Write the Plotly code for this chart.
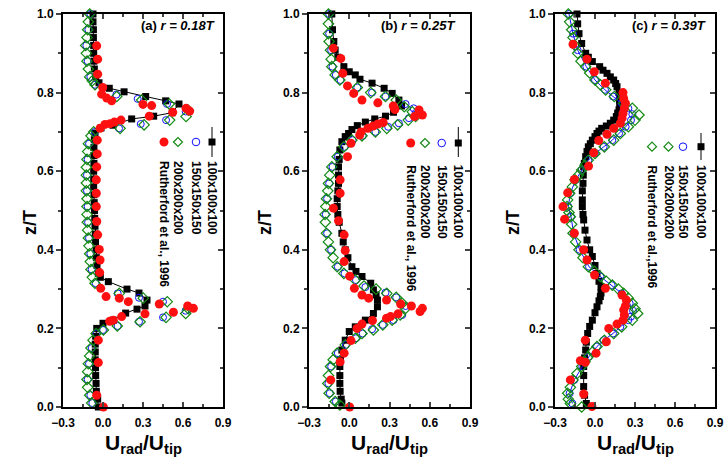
import plotly.graph_objects as go

F = "Liberation Sans, Arial, sans-serif"

# ---------------- Panel (a) r = 0.18T ----------------
a_m100_z = [1.00, 0.98, 0.96, 0.94, 0.92, 0.90, 0.88, 0.86, 0.84, 0.825, 0.811, 0.802, 0.790, 0.779, 0.771,
            0.749, 0.740, 0.733, 0.717, 0.710, 0.697, 0.68, 0.66, 0.64, 0.62, 0.60, 0.58, 0.56, 0.54, 0.52,
            0.50, 0.48, 0.46, 0.44, 0.42, 0.40, 0.38, 0.36, 0.34, 0.330, 0.319, 0.300, 0.290, 0.272, 0.257,
            0.249, 0.239, 0.221, 0.213, 0.200, 0.18, 0.16, 0.14, 0.12, 0.10, 0.08, 0.06, 0.04, 0.02, 0.00]
a_m100_x = [-0.075, -0.075, -0.072, -0.072, -0.07, -0.07, -0.068, -0.065, -0.055, -0.03, 0.047, 0.158, 0.32, 0.47, 0.57,
            0.52, 0.38, 0.215, 0.075, -0.015, -0.06, -0.065, -0.068, -0.068, -0.068, -0.07, -0.07, -0.07, -0.068, -0.066,
            -0.064, -0.062, -0.06, -0.058, -0.056, -0.052, -0.05, -0.045, -0.035, -0.02, 0.04, 0.18, 0.27, 0.33, 0.315,
            0.255, 0.17, 0.077, 0.0, -0.047, -0.055, -0.058, -0.058, -0.058, -0.056, -0.055, -0.052, -0.05, -0.04, -0.035]

a_m150_z = [1.00, 0.96, 0.92, 0.88, 0.84, 0.82, 0.795, 0.784, 0.771, 0.752, 0.730, 0.720, 0.709, 0.70, 0.67,
            0.63, 0.59, 0.55, 0.51, 0.47, 0.43, 0.39, 0.35, 0.315, 0.289, 0.278, 0.268, 0.245, 0.228, 0.217,
            0.206, 0.196, 0.187, 0.15, 0.11, 0.07, 0.03, 0.01]
a_m150_x = [-0.095, -0.11, -0.125, -0.115, -0.095, -0.06, 0.10, 0.26, 0.48, 0.62, 0.473, 0.283, 0.12, -0.06, -0.105,
            -0.115, -0.12, -0.12, -0.115, -0.112, -0.105, -0.095, -0.085, -0.055, 0.11, 0.27, 0.45, 0.62, 0.45, 0.27,
            0.11, 0.0, -0.05, -0.085, -0.105, -0.115, -0.095, -0.08]

a_m200_z = [1.00, 0.98, 0.96, 0.94, 0.92, 0.90, 0.88, 0.86, 0.84, 0.83, 0.820, 0.790, 0.781, 0.771, 0.755,
            0.739, 0.730, 0.718, 0.709, 0.700, 0.69, 0.67, 0.65, 0.63, 0.61, 0.59, 0.57, 0.55, 0.53, 0.51,
            0.49, 0.47, 0.45, 0.43, 0.41, 0.39, 0.37, 0.35, 0.33, 0.315, 0.289, 0.277, 0.268, 0.250, 0.238,
            0.228, 0.217, 0.206, 0.196, 0.187, 0.17, 0.15, 0.13, 0.11, 0.09, 0.07, 0.05, 0.03, 0.01]
a_m200_x = [-0.10, -0.11, -0.115, -0.12, -0.13, -0.125, -0.12, -0.11, -0.10, -0.08, -0.06, 0.103, 0.29, 0.497, 0.64,
            0.623, 0.50, 0.308, 0.128, -0.07, -0.09, -0.11, -0.115, -0.12, -0.125, -0.125, -0.125, -0.125, -0.12, -0.12,
            -0.12, -0.118, -0.115, -0.11, -0.105, -0.10, -0.095, -0.09, -0.08, -0.06, 0.122, 0.302, 0.482, 0.64, 0.62,
            0.473, 0.278, 0.107, 0.003, -0.052, -0.075, -0.09, -0.10, -0.11, -0.115, -0.12, -0.115, -0.10, -0.085]

a_exp_z = [0.919, 0.885, 0.847, 0.813, 0.796, 0.786, 0.779, 0.770, 0.767, 0.760, 0.753, 0.750, 0.740, 0.730, 0.725,
           0.721, 0.719, 0.709, 0.679, 0.644, 0.611, 0.578, 0.544, 0.510, 0.472, 0.438, 0.401, 0.374, 0.342, 0.302,
           0.281, 0.277, 0.268, 0.262, 0.257, 0.251, 0.241, 0.237, 0.230, 0.221, 0.218, 0.170, 0.113, 0.030, 0.000]
a_exp_x = [-0.047, -0.04, -0.04, -0.002, -0.01, 0.028, 0.065, 0.30, 0.365, 0.623, 0.65, 0.523, 0.347, 0.135, 0.085,
           0.053, 0.015, -0.022, -0.043, -0.043, -0.047, -0.05, -0.05, -0.05, -0.047, -0.04, -0.028, -0.022, -0.025, -0.017,
           0.023, 0.122, 0.19, 0.422, 0.635, 0.678, 0.528, 0.315, 0.14, 0.077, 0.05, -0.035, -0.035, -0.047, 0.003]

# ---------------- Panel (b) r = 0.25T ----------------
b_m100_z = [1.00, 0.96, 0.93, 0.908, 0.89, 0.866, 0.853, 0.845, 0.834, 0.824, 0.811, 0.798, 0.781, 0.766, 0.750,
            0.740, 0.733, 0.725, 0.716, 0.706, 0.696, 0.688, 0.675, 0.654, 0.63, 0.611, 0.59, 0.569, 0.55, 0.53,
            0.51, 0.49, 0.47, 0.442, 0.42, 0.40, 0.38, 0.357, 0.345, 0.332, 0.315, 0.298, 0.285, 0.272, 0.255,
            0.238, 0.221, 0.204, 0.192, 0.17, 0.145, 0.12, 0.103, 0.08, 0.06, 0.04, 0.02, 0.01]
b_m100_x = [-0.13, -0.125, -0.115, -0.105, -0.085, -0.04, 0.0, 0.045, 0.08, 0.17, 0.26, 0.32, 0.37, 0.39, 0.33,
            0.27, 0.19, 0.12, 0.06, 0.02, -0.005, -0.03, -0.055, -0.07, -0.075, -0.08, -0.08, -0.08, -0.085, -0.09,
            -0.09, -0.085, -0.075, -0.055, -0.045, -0.03, -0.01, 0.02, 0.05, 0.095, 0.16, 0.18, 0.20, 0.21, 0.21,
            0.18, 0.12, 0.045, 0.0, -0.03, -0.055, -0.065, -0.07, -0.07, -0.07, -0.068, -0.06, -0.055]

b_m150_z = [1.00, 0.95, 0.908, 0.866, 0.845, 0.832, 0.813, 0.800, 0.790, 0.771, 0.760, 0.748, 0.735, 0.722, 0.713,
            0.700, 0.690, 0.679, 0.662, 0.637, 0.611, 0.569, 0.53, 0.49, 0.442, 0.40, 0.357, 0.34, 0.323, 0.305,
            0.291, 0.279, 0.257, 0.234, 0.221, 0.209, 0.198, 0.187, 0.175, 0.158, 0.137, 0.103, 0.06, 0.035, 0.014]
b_m150_x = [-0.15, -0.15, -0.135, -0.125, -0.10, -0.065, 0.06, 0.17, 0.27, 0.42, 0.48, 0.495, 0.445, 0.37, 0.29,
            0.195, 0.10, 0.025, -0.035, -0.085, -0.125, -0.15, -0.165, -0.175, -0.165, -0.135, -0.085, -0.035, 0.05, 0.12,
            0.27, 0.35, 0.42, 0.395, 0.33, 0.25, 0.17, 0.10, 0.05, -0.025, -0.085, -0.135, -0.155, -0.145, -0.10]

b_m200_z = [1.00, 0.975, 0.95, 0.93, 0.908, 0.885, 0.866, 0.845, 0.832, 0.813, 0.800, 0.790, 0.781, 0.764, 0.751,
            0.739, 0.730, 0.718, 0.709, 0.700, 0.690, 0.679, 0.662, 0.637, 0.611, 0.59, 0.569, 0.55, 0.53, 0.51,
            0.49, 0.47, 0.442, 0.42, 0.40, 0.38, 0.357, 0.34, 0.323, 0.308, 0.300, 0.289, 0.279, 0.264, 0.251,
            0.234, 0.221, 0.209, 0.196, 0.187, 0.175, 0.158, 0.137, 0.12, 0.103, 0.08, 0.06, 0.035, 0.014, 0.005]
b_m200_x = [-0.155, -0.155, -0.155, -0.15, -0.14, -0.135, -0.13, -0.105, -0.07, 0.06, 0.16, 0.27, 0.35, 0.41, 0.47,
            0.495, 0.44, 0.36, 0.28, 0.195, 0.095, 0.02, -0.04, -0.09, -0.13, -0.145, -0.155, -0.16, -0.17, -0.175,
            -0.18, -0.178, -0.17, -0.155, -0.14, -0.12, -0.09, -0.04, 0.045, 0.11, 0.20, 0.28, 0.35, 0.395, 0.42,
            0.38, 0.32, 0.25, 0.18, 0.095, 0.045, -0.03, -0.09, -0.12, -0.14, -0.155, -0.16, -0.15, -0.105, -0.07]

b_exp_z = [0.913, 0.887, 0.849, 0.817, 0.798, 0.781, 0.774, 0.766, 0.757, 0.756, 0.743, 0.739, 0.724, 0.720, 0.715,
           0.709, 0.700, 0.692, 0.671, 0.637, 0.578, 0.544, 0.506, 0.474, 0.438, 0.398, 0.370, 0.333, 0.302, 0.285,
           0.277, 0.272, 0.262, 0.257, 0.251, 0.243, 0.237, 0.230, 0.226, 0.220, 0.211, 0.200, 0.169, 0.137, 0.115,
           0.069, 0.000]
b_exp_x = [-0.118, -0.063, -0.048, -0.013, 0.033, 0.095, 0.213, 0.328, 0.34, 0.52, 0.545, 0.487, 0.253, 0.213, 0.178,
           0.138, 0.088, 0.078, 0.013, -0.013, -0.068, -0.068, -0.118, -0.08, -0.038, -0.03, -0.038, 0.003, 0.038, 0.095,
           0.145, 0.278, 0.383, 0.463, 0.545, 0.528, 0.363, 0.308, 0.278, 0.173, 0.095, 0.058, 0.013, -0.038, -0.068,
           -0.138, 0.003]

# ---------------- Panel (c) r = 0.39T ----------------
c_m100_z = [1.00, 0.975, 0.95, 0.925, 0.90, 0.89, 0.879, 0.866, 0.857, 0.849, 0.84, 0.832, 0.823, 0.815, 0.80,
            0.79, 0.781, 0.77, 0.756, 0.748, 0.739, 0.73, 0.722, 0.715, 0.709, 0.702, 0.696, 0.688, 0.679, 0.67,
            0.662, 0.65, 0.637, 0.62, 0.611, 0.59, 0.569, 0.55, 0.527, 0.51, 0.49, 0.476, 0.45, 0.425, 0.40,
            0.383, 0.36, 0.34, 0.32, 0.306, 0.29, 0.281, 0.27, 0.255, 0.24, 0.221, 0.205, 0.187, 0.165, 0.145,
            0.125, 0.103, 0.08, 0.052, 0.03, 0.009]
c_m100_x = [-0.135, -0.13, -0.12, -0.10, -0.07, -0.05, -0.02, 0.035, 0.06, 0.09, 0.115, 0.14, 0.155, 0.165, 0.18,
            0.185, 0.185, 0.185, 0.18, 0.17, 0.16, 0.14, 0.115, 0.085, 0.05, 0.03, 0.015, 0.0, -0.02, -0.035,
            -0.05, -0.06, -0.07, -0.08, -0.085, -0.088, -0.09, -0.095, -0.095, -0.095, -0.09, -0.085, -0.075, -0.06, -0.04,
            -0.02, 0.0, 0.015, 0.03, 0.045, 0.045, 0.04, 0.03, 0.015, 0.0, -0.02, -0.04, -0.055, -0.065, -0.07,
            -0.078, -0.085, -0.085, -0.085, -0.078, -0.065]

c_m150_z = [1.00, 0.95, 0.908, 0.866, 0.832, 0.807, 0.790, 0.773, 0.760, 0.745, 0.730, 0.713, 0.696, 0.679, 0.662,
            0.645, 0.628, 0.603, 0.578, 0.544, 0.51, 0.484, 0.442, 0.40, 0.357, 0.332, 0.31, 0.289, 0.264, 0.245,
            0.23, 0.221, 0.204, 0.187, 0.17, 0.154, 0.128, 0.103, 0.069, 0.035, 0.009]
c_m150_x = [-0.195, -0.165, -0.13, -0.065, 0.0, 0.075, 0.135, 0.20, 0.25, 0.28, 0.27, 0.23, 0.18, 0.13, 0.065,
            0.0, -0.05, -0.10, -0.145, -0.185, -0.20, -0.18, -0.16, -0.115, -0.045, 0.04, 0.125, 0.20, 0.26, 0.285,
            0.27, 0.25, 0.19, 0.135, 0.065, 0.015, -0.045, -0.095, -0.155, -0.19, -0.17]

c_m200_z = [1.00, 0.98, 0.96, 0.94, 0.92, 0.90, 0.88, 0.866, 0.85, 0.832, 0.82, 0.807, 0.79, 0.773, 0.76,
            0.743, 0.73, 0.713, 0.696, 0.679, 0.662, 0.645, 0.628, 0.615, 0.603, 0.59, 0.578, 0.56, 0.544, 0.527,
            0.51, 0.495, 0.484, 0.465, 0.442, 0.42, 0.40, 0.38, 0.357, 0.345, 0.332, 0.32, 0.31, 0.30, 0.289,
            0.277, 0.264, 0.25, 0.238, 0.221, 0.204, 0.187, 0.17, 0.154, 0.14, 0.128, 0.115, 0.103, 0.085, 0.069,
            0.05, 0.035, 0.02, 0.009, 0.0]
c_m200_x = [-0.20, -0.19, -0.175, -0.165, -0.15, -0.13, -0.105, -0.07, -0.04, 0.0, 0.04, 0.08, 0.145, 0.215, 0.28,
            0.33, 0.30, 0.25, 0.19, 0.14, 0.07, 0.0, -0.05, -0.075, -0.10, -0.125, -0.15, -0.17, -0.19, -0.205,
            -0.21, -0.195, -0.185, -0.175, -0.165, -0.145, -0.12, -0.09, -0.05, -0.005, 0.04, 0.085, 0.13, 0.175, 0.215,
            0.25, 0.28, 0.30, 0.32, 0.28, 0.20, 0.14, 0.07, 0.015, -0.02, -0.05, -0.075, -0.10, -0.135, -0.165,
            -0.185, -0.205, -0.20, -0.185, -0.10]

c_exp_z = [0.923, 0.885, 0.853, 0.824, 0.800, 0.785, 0.773, 0.760, 0.747, 0.735, 0.722, 0.709, 0.694, 0.678, 0.647,
           0.613, 0.579, 0.545, 0.510, 0.478, 0.442, 0.400, 0.374, 0.336, 0.302, 0.285, 0.272, 0.257, 0.247, 0.234,
           0.221, 0.211, 0.200, 0.170, 0.166, 0.137, 0.118, 0.114, 0.069, 0.033, 0.001]
c_exp_x = [-0.165, -0.06, -0.005, 0.078, 0.21, 0.215, 0.228, 0.22, 0.21, 0.203, 0.19, 0.14, 0.09, 0.028, -0.01,
           -0.048, -0.155, -0.205, -0.24, -0.228, -0.155, -0.085, -0.06, -0.003, 0.078, 0.203, 0.235, 0.228, 0.215, 0.22,
           0.21, 0.165, 0.103, -0.073, 0.085, 0.008, -0.11, -0.073, -0.185, -0.085, -0.023]

# ---------------- text ----------------
panel_titles = ["<b>(a) <i>r = 0.18T</i></b>", "<b>(b) <i>r = 0.25T</i></b>", "<b>(c) <i>r = 0.39T</i></b>"]
series_names = ["100x100x100", "150x150x150", "200x200x200"]
exp_names = ["Rutherford et al., 1996", "Rutherford et al., 1996", "Rutherford et al.,1996"]
x_ticks = [-0.3, 0.0, 0.3, 0.6, 0.9]
y_ticks = [0.0, 0.2, 0.4, 0.6, 0.8, 1.0]

# body margin is removed by the post script, so the figure fills the window
W, H = 725, 472
x_dom_px = [(63, 223), (309, 470), (555, 715)]
y_dom_px = (14, 407)

panels = [
    (a_m100_z, a_m100_x, a_m150_z, a_m150_x, a_m200_z, a_m200_x, a_exp_z, a_exp_x),
    (b_m100_z, b_m100_x, b_m150_z, b_m150_x, b_m200_z, b_m200_x, b_exp_z, b_exp_x),
    (c_m100_z, c_m100_x, c_m150_z, c_m150_x, c_m200_z, c_m200_x, c_exp_z, c_exp_x),
]

BLACK, BLUE, GREEN, RED = "#000000", "#1010ff", "#138a13", "#ff1010"


def px(xp):
    return min(1.0, max(0.0, xp / W))


def py(yp):
    return min(1.0, max(0.0, 1 - yp / H))


fig = go.Figure()
for i, p in enumerate(panels):
    xa = "x" if i == 0 else f"x{i+1}"
    ya = "y" if i == 0 else f"y{i+1}"
    z1, x1, z2, x2, z3, x3, ze, xe = p
    fig.add_trace(go.Scatter(x=x1, y=z1, xaxis=xa, yaxis=ya, mode="lines+markers", cliponaxis=False,
                             line=dict(color=BLACK, width=1),
                             marker=dict(symbol="square", size=7, color=BLACK), showlegend=False))
    fig.add_trace(go.Scatter(x=x2, y=z2, xaxis=xa, yaxis=ya,
                             mode="lines+markers" if i == 2 else "markers", cliponaxis=False,
                             line=dict(color=BLUE, width=1),
                             marker=dict(symbol="circle-open", size=7, color=BLUE, line=dict(width=1)),
                             showlegend=False))
    fig.add_trace(go.Scatter(x=x3, y=z3, xaxis=xa, yaxis=ya, mode="markers", cliponaxis=False,
                             marker=dict(symbol="diamond-open", size=8, color=GREEN, line=dict(width=1.2)),
                             showlegend=False))
    fig.add_trace(go.Scatter(x=xe, y=ze, xaxis=xa, yaxis=ya, mode="markers", cliponaxis=False,
                             marker=dict(symbol="circle", size=9, color=RED), showlegend=False))
    # empty trace that only makes the top/right frame axes of this panel exist
    fig.add_trace(go.Scatter(x=[], y=[], xaxis=f"x{i+4}", yaxis=f"y{i+4}", mode="markers",
                             showlegend=False, hoverinfo="skip"))

layout = dict(width=W, height=H, margin=dict(l=0, r=0, t=0, b=0, autoexpand=False),
              paper_bgcolor="white", plot_bgcolor="white", showlegend=False)
tickfont = dict(family=F, size=12, color="black", weight="bold")
ydom = [py(y_dom_px[1]), py(y_dom_px[0])]
for i in range(3):
    xk = "xaxis" if i == 0 else f"xaxis{i+1}"
    yk = "yaxis" if i == 0 else f"yaxis{i+1}"
    ya = "y" if i == 0 else f"y{i+1}"
    xa = "x" if i == 0 else f"x{i+1}"
    xdom = [px(x_dom_px[i][0]), px(x_dom_px[i][1])]
    common = dict(automargin=False, ticklen=5, tickwidth=2, showline=True, linewidth=2, linecolor="black",
                  showgrid=False, zeroline=False)
    layout[xk] = dict(domain=xdom, anchor=ya, range=[-0.3, 0.9], tickvals=x_ticks, tickformat=".1f",
                      ticks="inside", tickfont=tickfont, ticklabeloverflow="allow", ticklabelstandoff=4,
                      minor=dict(dtick=0.15, tick0=-0.3, ticks="inside", ticklen=3, tickwidth=1.5, showgrid=False),
                      **common)
    layout[yk] = dict(domain=ydom, anchor=xa, range=[0, 1.0], tickvals=y_ticks, tickformat=".1f",
                      ticks="outside", tickfont=tickfont, ticklabeloverflow="allow",
                      minor=dict(dtick=0.1, tick0=0, ticks="outside", ticklen=3, tickwidth=1.5, showgrid=False),
                      **common)
    # top and right frame with inward ticks
    layout[f"xaxis{i+4}"] = dict(domain=xdom, anchor=f"y{i+4}", overlaying=xa, side="top", range=[-0.3, 0.9],
                                 tickvals=x_ticks, ticks="inside", showticklabels=False,
                                 minor=dict(dtick=0.15, tick0=-0.3, ticks="inside", ticklen=3, tickwidth=1.5,
                                            showgrid=False),
                                 **common)
    layout[f"yaxis{i+4}"] = dict(domain=ydom, anchor=f"x{i+4}", overlaying=ya, side="right", range=[0, 1.0],
                                 tickvals=y_ticks, ticks="inside", showticklabels=False,
                                 minor=dict(dtick=0.1, tick0=0, ticks="inside", ticklen=3, tickwidth=1.5,
                                            showgrid=False),
                                 **common)
fig.update_layout(**layout)

annotations = []
shapes = []
title_right_px = [217, 457, 708]
ytitle_px = [30, 265, 513]
leg_cols = [(164, 178, 196, 212), (410.7, 425, 441.7, 458.3), (652, 668.5, 683, 701)]
leg_sym_y = [142, 143, 146.7]
leg_text_y = [159, 163, 163]
leg_line = [(127, 157), (127, 157), (133, 160)]

for i in range(3):
    annotations.append(dict(text=panel_titles[i], xref="paper", yref="paper", x=px(title_right_px[i]),
                            y=py(26), xanchor="right", yanchor="middle", showarrow=False,
                            font=dict(family=F, size=13, color="black")))
    cx = (x_dom_px[i][0] + x_dom_px[i][1]) / 2
    annotations.append(dict(text="<b>U<sub>rad</sub>/U<sub>tip</sub></b>", xref="paper", yref="paper",
                            x=px(cx), y=py(444), xanchor="center", yanchor="middle", showarrow=False,
                            font=dict(family=F, size=21, color="black")))
    annotations.append(dict(text="<b>z/T</b>", xref="paper", yref="paper", x=px(ytitle_px[i]), y=py(223),
                            xanchor="center", yanchor="middle", textangle=-90, showarrow=False,
                            font=dict(family=F, size=18, color="black")))
    cols = leg_cols[i]
    texts = [exp_names[i], series_names[2], series_names[1], series_names[0]]
    for c, t in zip(cols, texts):
        annotations.append(dict(text="<b>" + t + "</b>", xref="paper", yref="paper", x=px(c), y=py(leg_text_y[i]),
                                xanchor="center", yanchor="top", textangle=90, showarrow=False,
                                font=dict(family=F, size=12, color="black")))
    sy = py(leg_sym_y[i])
    ce, c2, c1, c0 = cols
    if i < 2:
        shapes.append(dict(type="circle", xref="paper", yref="paper", xsizemode="pixel", ysizemode="pixel",
                           xanchor=px(ce), yanchor=sy, x0=-4.5, x1=4.5, y0=-4.5, y1=4.5,
                           fillcolor=RED, line=dict(color=RED, width=0)))
    else:
        shapes.append(dict(type="path", xref="paper", yref="paper", xsizemode="pixel", ysizemode="pixel",
                           xanchor=px(ce), yanchor=sy, path="M -4.5 0 L 0 4.5 L 4.5 0 L 0 -4.5 Z",
                           line=dict(color=GREEN, width=1.2)))
    shapes.append(dict(type="path", xref="paper", yref="paper", xsizemode="pixel", ysizemode="pixel",
                       xanchor=px(c2), yanchor=sy, path="M -4.5 0 L 0 4.5 L 4.5 0 L 0 -4.5 Z",
                       line=dict(color=GREEN, width=1.2)))
    shapes.append(dict(type="circle", xref="paper", yref="paper", xsizemode="pixel", ysizemode="pixel",
                       xanchor=px(c1), yanchor=sy, x0=-3.8, x1=3.8, y0=-3.8, y1=3.8,
                       line=dict(color=BLUE, width=1)))
    shapes.append(dict(type="line", xref="paper", yref="paper", x0=px(c0), x1=px(c0),
                       y0=py(leg_line[i][0]), y1=py(leg_line[i][1]), line=dict(color=BLACK, width=1)))
    shapes.append(dict(type="rect", xref="paper", yref="paper", xsizemode="pixel", ysizemode="pixel",
                       xanchor=px(c0), yanchor=sy, x0=-3.5, x1=3.5, y0=-3.5, y1=3.5,
                       fillcolor=BLACK, line=dict(color=BLACK, width=0)))

fig.update_layout(annotations=annotations, shapes=shapes)
fig.write_html("out.html", config={"displayModeBar": False},
               post_script="document.body.style.margin='0';document.body.style.overflow='hidden';")
